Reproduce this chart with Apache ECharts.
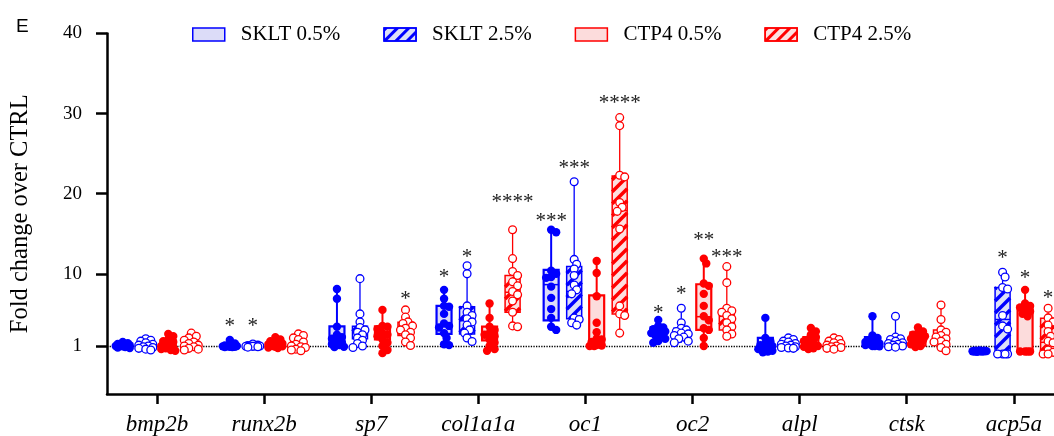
<!DOCTYPE html>
<html>
<head>
<meta charset="utf-8">
<script src="https://cdn.jsdelivr.net/npm/echarts@6/dist/echarts.min.js"></script>
<style>
  html, body { margin: 0; padding: 0; background: #fff; }
  #chart { width: 1054px; height: 436px; }
</style>
</head>
<body>
<div id="chart"></div>
<script>
const categories = ['bmp2b', 'runx2b', 'sp7', 'col1a1a', 'oc1', 'oc2', 'alpl', 'ctsk', 'acp5a'];
const yTicks = [1, 10, 20, 30, 40];

// box stats per gene: [min, q1, median, q3, max]
const skltLowBox = [
  [0.75, 0.9, 1.0, 1.2, 1.5], [0.85, 0.9, 1.0, 1.1, 1.75], [0.85, 1.45, 2.0, 3.45, 8.1],
  [1.1, 2.5, 3.5, 6.0, 8.0], [3.0, 4.2, 8.65, 10.5, 15.5], [1.4, 2.3, 2.9, 3.35, 4.25],
  [0.2, 0.6, 1.0, 2.0, 4.5], [0.95, 1.0, 1.5, 2.1, 4.7], [0.28, 0.32, 0.35, 0.4, 0.45]
];
const skltHighBox = [
  [0.5, 0.8, 1.0, 1.5, 1.9], [0.85, 0.95, 1.0, 1.1, 1.25], [0.8, 1.9, 2.75, 3.45, 9.4],
  [1.55, 2.5, 4.15, 5.9, 11.0], [3.6, 4.4, 7.8, 10.9, 21.5], [1.4, 2.1, 2.6, 3.2, 5.7],
  [0.7, 0.8, 1.1, 1.5, 2.0], [0.85, 1.0, 1.4, 1.9, 4.7], [0.0, 0.0, 4.3, 8.3, 10.2]
];
const ctpLowBox = [
  [0.4, 0.6, 1.0, 1.7, 2.5], [0.75, 0.9, 1.1, 1.4, 2.1], [0.1, 1.8, 2.4, 3.45, 5.5],
  [0.4, 1.7, 2.3, 3.4, 6.3], [1.0, 1.0, 1.8, 7.3, 11.6], [1.0, 3.0, 4.65, 8.7, 11.9],
  [0.6, 0.9, 1.4, 2.1, 3.25], [0.85, 1.05, 1.9, 2.7, 3.3], [0.3, 0.3, 5.4, 6.0, 8.0]
];
const ctpHighBox = [
  [0.5, 0.7, 1.1, 1.6, 2.6], [0.4, 0.7, 1.0, 1.6, 2.5], [1.05, 2.3, 3.2, 3.95, 5.5],
  [3.4, 5.2, 7.7, 9.8, 15.5], [2.6, 5.0, 17.9, 22.2, 29.5], [2.2, 3.0, 4.7, 5.5, 10.9],
  [0.6, 0.8, 1.1, 1.5, 2.0], [0.4, 1.5, 2.0, 3.0, 6.1], [0.0, 0.0, 1.45, 4.45, 5.7]
];

// individual replicates per gene
const skltLowPts = [
  [1.5, 1.35, 1.25, 1.15, 1.1, 1.0, 1.0, 0.95, 0.9, 0.85, 0.8, 0.75],
  [1.75, 1.3, 1.1, 1.05, 1.0, 1.0, 0.95, 0.95, 0.9, 0.9, 0.85, 0.85],
  [8.1, 6.9, 3.4, 2.4, 2.1, 1.9, 1.5, 1.4, 1.2, 1.1, 0.9, 0.85],
  [8.0, 6.9, 6.0, 5.9, 5.0, 3.8, 3.5, 3.3, 2.6, 2.0, 1.2, 1.1],
  [15.5, 15.2, 10.4, 10.0, 9.6, 9.5, 8.4, 7.0, 5.6, 4.5, 3.4, 3.0],
  [4.25, 3.5, 3.3, 3.1, 2.9, 2.8, 2.6, 2.4, 2.2, 1.9, 1.6, 1.4],
  [4.5, 2.0, 1.6, 1.3, 1.1, 1.0, 0.9, 0.7, 0.6, 0.4, 0.3, 0.2],
  [4.7, 2.3, 2.0, 1.7, 1.5, 1.4, 1.3, 1.2, 1.1, 1.0, 1.0, 0.95],
  [0.45, 0.42, 0.4, 0.38, 0.36, 0.35, 0.34, 0.33, 0.32, 0.3, 0.3, 0.28]
];
const skltHighPts = [
  [1.9, 1.7, 1.6, 1.4, 1.2, 1.1, 1.0, 0.9, 0.8, 0.7, 0.6, 0.5],
  [1.25, 1.1, 1.05, 1.0, 1.0, 1.0, 0.95, 0.95, 0.9, 0.85],
  [9.4, 5.0, 4.0, 3.3, 3.0, 2.7, 2.4, 2.0, 1.7, 1.3, 1.0, 0.8],
  [11.0, 10.0, 6.0, 5.2, 4.8, 4.4, 4.0, 3.6, 3.0, 2.6, 2.0, 1.55],
  [21.5, 11.8, 11.2, 10.6, 9.8, 8.6, 8.0, 7.5, 4.5, 4.3, 3.9, 3.6],
  [5.7, 3.9, 3.2, 3.0, 2.8, 2.6, 2.5, 2.3, 2.1, 1.9, 1.6, 1.4],
  [2.0, 1.8, 1.6, 1.5, 1.3, 1.2, 1.1, 1.0, 0.9, 0.8, 0.75, 0.7],
  [4.7, 2.1, 1.9, 1.8, 1.6, 1.4, 1.3, 1.2, 1.1, 1.0, 0.9, 0.85],
  [10.2, 9.6, 8.3, 8.1, 4.8, 3.5, 3.1, 0.0, 0.0, 0.0, 0.0]
];
const ctpLowPts = [
  [2.5, 2.2, 1.8, 1.6, 1.5, 1.2, 1.0, 0.8, 0.7, 0.6, 0.5, 0.4],
  [2.1, 1.8, 1.6, 1.4, 1.3, 1.2, 1.1, 1.0, 0.95, 0.9, 0.8, 0.75],
  [5.5, 3.5, 3.4, 3.1, 2.6, 2.4, 2.2, 1.8, 1.4, 1.0, 0.5, 0.1],
  [6.3, 4.5, 3.4, 3.0, 2.6, 2.4, 2.2, 1.8, 1.4, 1.0, 0.6, 0.4],
  [11.6, 10.1, 7.2, 3.9, 2.7, 1.9, 1.8, 1.5, 1.1, 1.05, 1.0, 1.0],
  [11.9, 11.3, 8.8, 8.5, 7.5, 6.0, 4.7, 4.2, 3.2, 3.0, 2.0, 1.0],
  [3.25, 2.8, 2.4, 2.1, 1.8, 1.6, 1.4, 1.2, 1.0, 0.9, 0.7, 0.6],
  [3.3, 2.8, 2.6, 2.4, 2.2, 2.0, 1.9, 1.7, 1.5, 1.2, 1.0, 0.85],
  [8.0, 6.3, 6.0, 5.8, 5.6, 5.3, 5.0, 4.7, 0.3, 0.3, 0.3, 0.3]
];
const ctpHighPts = [
  [2.6, 2.2, 2.0, 1.7, 1.5, 1.3, 1.1, 1.0, 0.9, 0.7, 0.6, 0.5],
  [2.5, 2.3, 2.0, 1.8, 1.5, 1.2, 1.0, 0.9, 0.8, 0.6, 0.5, 0.4],
  [5.5, 4.6, 4.0, 3.8, 3.5, 3.2, 3.0, 2.7, 2.4, 2.0, 1.5, 1.05],
  [15.5, 11.9, 10.3, 9.8, 9.0, 8.5, 7.8, 7.4, 6.6, 5.2, 3.5, 3.4],
  [29.5, 28.5, 22.3, 22.1, 18.9, 18.3, 17.8, 15.6, 6.0, 5.0, 4.8, 2.6],
  [10.9, 8.9, 5.7, 5.4, 5.2, 4.8, 4.4, 3.9, 3.4, 3.0, 2.5, 2.2],
  [2.0, 1.8, 1.6, 1.4, 1.3, 1.1, 1.0, 0.9, 0.8, 0.7, 0.6],
  [6.1, 4.3, 3.0, 2.7, 2.3, 2.1, 1.9, 1.6, 1.5, 1.2, 0.8, 0.4],
  [5.7, 4.5, 4.0, 3.6, 2.8, 2.2, 1.6, 1.4, 0.5, 0.2, 0.0, 0.0]
];

// significance marks and the value they sit at
const skltLowStars = ['', '*', '', '*', '***', '*', '', '', ''];
const skltLowStarAt = [0, 4.0, 0, 10.2, 17.2, 5.7, 0, 0, 0];
const skltHighStars = ['', '*', '', '*', '***', '*', '', '', '*'];
const skltHighStarAt = [0, 4.0, 0, 12.7, 23.8, 8.1, 0, 0, 12.5];
const ctpLowStars = ['', '', '', '', '', '**', '', '', '*'];
const ctpLowStarAt = [0, 0, 0, 0, 0, 14.8, 0, 0, 10.0];
const ctpHighStars = ['', '', '*', '****', '****', '***', '', '', '*'];
const ctpHighStarAt = [0, 0, 7.4, 19.5, 31.9, 12.7, 0, 0, 7.5];

const BLUE = '#0000ff', RED = '#ff0000';
const groups = [
  { name: 'SKLT 0.5%', box: skltLowBox, pts: skltLowPts, stars: skltLowStars, starAt: skltLowStarAt,
    color: BLUE, fill: '#dcdcf8', hatch: false, open: false, offset: -0.32, lw: 2 },
  { name: 'SKLT 2.5%', box: skltHighBox, pts: skltHighPts, stars: skltHighStars, starAt: skltHighStarAt,
    color: BLUE, fill: '#dde0f8', hatch: true, open: true, offset: -0.105, lw: 1.3 },
  { name: 'CTP4 0.5%', box: ctpLowBox, pts: ctpLowPts, stars: ctpLowStars, starAt: ctpLowStarAt,
    color: RED, fill: '#fcdcdc', hatch: false, open: false, offset: 0.105, lw: 2 },
  { name: 'CTP4 2.5%', box: ctpHighBox, pts: ctpHighPts, stars: ctpHighStars, starAt: ctpHighStarAt,
    color: RED, fill: '#fde0e0', hatch: true, open: true, offset: 0.32, lw: 1.3 }
];

const SERIF = '"Liberation Serif", "Times New Roman", serif';

function hatchLines(x0, y0, x1, y1, color) {
  const out = [];
  const step = 12;
  const start = Math.ceil((x0 + y0) / step) * step;
  for (let c = start; c < x1 + y1; c += step) {
    const xa = Math.max(x0, c - y1), xb = Math.min(x1, c - y0);
    if (xb - xa < 0.5) continue;
    out.push({ type: 'line', shape: { x1: xa, y1: c - xa, x2: xb, y2: c - xb },
      style: { stroke: color, lineWidth: 3.5 } });
  }
  return out;
}

function drawGroup(g, params, api) {
  const i = params.dataIndex;
  const b = g.box[i];
  const cx = api.coord([i + g.offset, 0])[0];
  const yOf = v => api.coord([i + g.offset, v])[1];
  const hw = 7.5;
  const kids = [];
  const yMax = yOf(b[4]), yQ3 = yOf(b[3]), yMed = yOf(b[2]), yQ1 = yOf(b[1]), yMin = yOf(b[0]);

  kids.push({ type: 'line', shape: { x1: cx, y1: yMax, x2: cx, y2: yQ3 }, style: { stroke: g.color, lineWidth: g.lw } });
  kids.push({ type: 'line', shape: { x1: cx, y1: yQ1, x2: cx, y2: yMin }, style: { stroke: g.color, lineWidth: g.lw } });
  kids.push({ type: 'rect', shape: { x: cx - hw, y: yQ3, width: hw * 2, height: Math.max(yQ1 - yQ3, 0.5) },
    style: { fill: g.fill } });
  if (g.hatch) hatchLines(cx - hw, yQ3, cx + hw, yQ1, g.color).forEach(l => kids.push(l));
  kids.push({ type: 'rect', shape: { x: cx - hw, y: yQ3, width: hw * 2, height: Math.max(yQ1 - yQ3, 0.5) },
    style: { fill: 'none', stroke: g.color, lineWidth: g.lw + 0.2 } });
  kids.push({ type: 'line', shape: { x1: cx - hw, y1: yMed, x2: cx + hw, y2: yMed }, style: { stroke: g.color, lineWidth: 1.5 } });

  // simple swarm so overlapping replicates spread sideways a little
  const r = 4.2;
  const placed = [];
  const cand = [0, 2.5, -2.5, 5, -5, 7, -7];
  g.pts[i].forEach(v => {
    const py = yOf(v);
    let best = 0, bestD = -1;
    for (const dx of cand) {
      let d = Infinity;
      placed.forEach(p => { d = Math.min(d, Math.hypot(p.x - dx, p.y - py)); });
      if (d >= 5) { best = dx; bestD = d; break; }
      if (d > bestD) { bestD = d; best = dx; }
    }
    placed.push({ x: best, y: py });
  });
  placed.forEach(p => {
    kids.push({ type: 'circle', shape: { cx: cx + p.x, cy: p.y, r: g.open ? 3.9 : r },
      style: g.open ? { fill: '#fff', stroke: g.color, lineWidth: 1.3 } : { fill: g.color } });
  });

  if (g.stars[i]) {
    kids.push({ type: 'text', x: cx, y: yOf(g.starAt[i]) + 5,
      style: { text: g.stars[i], fill: '#222', fontSize: 21, fontFamily: SERIF, align: 'center', verticalAlign: 'middle' } });
  }
  return { type: 'group', children: kids };
}

const chart = echarts.init(document.getElementById('chart'), null, { renderer: 'canvas' });

const series = groups.map(g => ({
  type: 'custom',
  name: g.name,
  renderItem: (params, api) => drawGroup(g, params, api),
  encode: { x: 0, y: [1, 2, 3, 4, 5] },
  data: categories.map((c, i) => [i].concat(g.box[i])),
  itemStyle: { color: g.fill, borderColor: g.color },
  z: 3
}));
series[0].markLine = {
  silent: true, symbol: 'none', label: { show: false },
  lineStyle: { type: 'dotted', color: '#000', width: 1.3 },
  data: [{ yAxis: 1 }], z: 1
};

chart.setOption({
  animation: false,
  title: {
    text: 'E', left: 16, top: 17, padding: 0,
    textStyle: { fontFamily: '"Liberation Sans", Arial, sans-serif', fontSize: 19, fontWeight: 'normal', color: '#000' }
  },
  legend: {
    left: 187, top: 19, itemWidth: 32, itemHeight: 13, itemGap: 43, selectedMode: false,
    textStyle: { fontFamily: SERIF, fontSize: 21, color: '#000', padding: [0, 0, 0, 11] },
    data: groups.map(g => ({
      name: g.name, icon: 'rect',
      itemStyle: {
        color: g.fill, borderColor: g.color, borderWidth: 1.5,
        decal: g.hatch ? { symbol: 'rect', symbolSize: 1, dashArrayX: [1, 0], dashArrayY: [3, 5],
          rotation: -Math.PI / 4, color: g.color } : 'none'
      }
    }))
  },
  grid: { left: 107, right: 0, top: 33.5, bottom: 41 },
  xAxis: {
    type: 'value', min: -0.467, max: 8.375,
    axisLine: { onZero: false, lineStyle: { color: '#000', width: 2.5 } },
    axisTick: { customValues: categories.map((c, i) => i), length: 10, lineStyle: { color: '#000', width: 2.5 } },
    axisLabel: {
      customValues: categories.map((c, i) => i), formatter: v => categories[Math.round(v)],
      fontFamily: SERIF, fontStyle: 'italic', fontSize: 23, color: '#000', margin: 19
    },
    splitLine: { show: false }
  },
  yAxis: {
    type: 'value', min: -5, max: 40,
    name: 'Fold change over CTRL', nameLocation: 'middle', nameGap: 74, nameRotate: 90,
    nameTextStyle: { fontFamily: SERIF, fontSize: 24.5, color: '#000' },
    axisLine: { show: true, onZero: false, lineStyle: { color: '#000', width: 2.5 } },
    axisTick: { show: true, customValues: yTicks, length: 11, lineStyle: { color: '#000', width: 2.5 } },
    axisLabel: { customValues: yTicks, fontFamily: SERIF, fontSize: 19, color: '#000', margin: 25 },
    splitLine: { show: false }
  },
  series: series
});
</script>
</body>
</html>
